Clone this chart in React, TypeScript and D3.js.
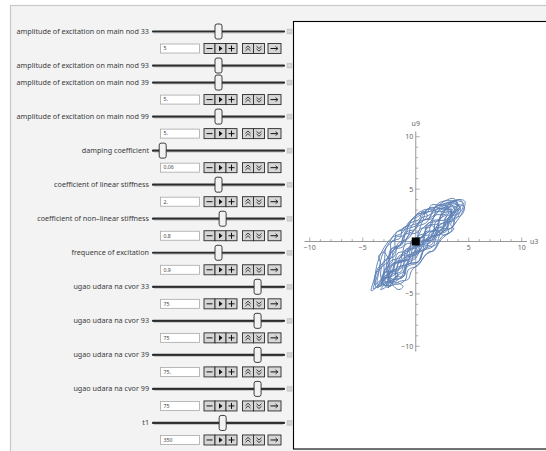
import React from "react";
import * as d3 from "d3";

// ---------- control panel data ----------
const controlLabels = [
  "amplitude of excitation on main nod 33",
  "amplitude of excitation on main nod 93",
  "amplitude of excitation on main nod 39",
  "amplitude of excitation on main nod 99",
  "damping coefficient",
  "coefficient of linear stiffness",
  "coefficient of non\u2013linear stiffness",
  "frequence of excitation",
  "ugao udara na cvor 33",
  "ugao udara na cvor 93",
  "ugao udara na cvor 39",
  "ugao udara na cvor 99",
  "t1",
];
const controlValues = [5, 5, 5, 5, 0.06, 2, 0.8, 0.9, 75, 75, 75, 75, 350];
const controlMins = [0, 0, 0, 0, 0, 0, 0, 0, 0, 0, 0, 0, 0];
const controlMaxs = [10, 10, 10, 10, 1.2, 4, 1.5, 1.8, 92, 92, 92, 92, 656];
const controlTexts = ["5", "", "5.", "5.", "0.06", "2.", "0.8", "0.9", "75", "75", "75.", "75", "350"];
const controlOpen = [true, false, true, true, true, true, true, true, true, true, true, true, true];

// ---------- plot data ----------
const xTicks = [-10, -5, 5, 10];
const yTicks = [-10, -5, 5, 10];
const minorTicks = d3.range(-10, 11).filter((v) => v !== 0);
const xLabel = "u3";
const yLabel = "u9";
const currentPoint: [number, number] = [0, 0];

const trajectory: [number, number][] = [
  [0, 0], [0.6, 1.2], [1.4, 1.9], [2.2, 2.9], [3.0, 3.2], [3.4, 2.6], [2.8, 1.6], [1.9, 0.6],
  [0.8, -0.7], [0.3, -1.9], [-0.8, -2.2], [-1.2, -3.4], [-2.1, -3.7], [-2.6, -4.4],
  [-3.2, -3.8], [-2.6, -2.4], [-2.3, -1.0], [-1.4, -0.2], [-0.9, 1.1], [0.2, 1.6], [0.8, 2.7], [1.9, 3.0],
  [2.6, 3.6], [3.5, 3.7], [4.1, 3.3], [3.7, 2.4], [3.4, 1.3], [2.4, 0.9], [1.9, -0.3], [0.8, -0.7],
  [0.3, -1.9], [-0.8, -2.2], [-1.2, -3.4], [-2.1, -3.7], [-2.6, -4.4],
  [-2.1, -2.6], [-1.6, -1.4], [-0.7, -1.0], [-0.3, 0.2], [0.7, 0.5], [1.1, 1.7], [2.1, 2.0], [2.6, 3.0], [3.3, 3.0],
  [3.0, 2.0], [2.0, 1.5], [1.4, 0.3], [0.3, 0.0], [-0.3, -1.2], [-1.4, -1.4], [-1.9, -2.7], [-3.0, -3.0],
  [-3.4, -4.0], [-4.2, -4.7],
  [-3.9, -3.5], [-3.6, -2.0], [-3.0, -0.6], [-2.2, 0.4], [-1.3, 0.8], [-0.6, 1.9], [0.4, 2.5], [1.3, 3.2],
  [2.4, 3.3], [3.2, 3.8], [4.3, 4.0], [4.65, 3.8],
  [4.3, 2.6], [3.5, 1.4], [3.3, 0.9], [2.5, 0.5], [1.7, -0.8], [0.9, -1.3], [0.2, -2.3], [-0.7, -2.7],
  [-1.0, -3.7], [-1.9, -4.1], [-2.6, -3.6], [-2.3, -2.9], [-1.7, -3.1], [-1.9, -3.6], [-2.5, -3.4],
  [-2.8, -2.5], [-2.1, -1.2], [-1.5, -0.3], [-0.6, 0.4], [0.1, 1.4], [1.0, 1.8], [1.7, 2.8], [2.7, 2.9],
  [3.0, 3.5], [3.9, 3.8],
  [3.8, 2.9], [2.8, 2.3], [2.5, 1.2], [1.4, 0.9], [0.9, -0.2], [-0.2, -0.5], [-0.6, -1.7], [-1.6, -2.0],
  [-2.0, -3.2], [-3.0, -3.5], [-3.3, -4.3],
  [-3.0, -3.2], [-2.9, -1.8], [-2.0, -1.4], [-1.7, -0.2], [-0.8, 0.3], [-0.4, 1.5], [0.6, 1.9], [1.0, 3.0],
  [1.9, 3.3], [2.8, 3.9], [3.6, 4.1],
  [3.9, 3.4], [3.4, 2.4], [3.7, 1.7], [3.1, 1.2], [2.2, 1.3], [1.7, 0.2], [0.6, 0.0], [0.2, -1.1],
  [-0.9, -1.4], [-1.3, -2.5], [-2.4, -2.8], [-2.7, -3.9], [-3.6, -4.2],
  [-3.5, -3.0], [-3.2, -1.4], [-2.5, -0.1], [-1.8, 0.9], [-0.9, 1.2], [-0.2, 2.3], [0.6, 2.9], [1.1, 2.5],
  [0.9, 2.1], [1.6, 2.4], [2.3, 3.1], [3.1, 3.3], [3.4, 3.0],
  [2.9, 2.1], [1.9, 1.9], [1.6, 0.7], [0.6, 0.5], [0.1, -0.6], [-0.9, -0.7], [-1.2, -1.9], [-2.2, -2.2],
  [-2.5, -3.2], [-3.0, -3.7],
  [-2.2, -3.9], [-1.3, -3.3], [-0.9, -2.1], [0.0, -1.6], [0.6, -0.5], [1.5, -0.3], [2.0, 0.8], [2.9, 1.3],
  [3.3, 2.3], [4.2, 2.8], [4.5, 3.6], [4.1, 4.0],
  [3.3, 3.6], [2.6, 3.2], [1.7, 3.0], [1.2, 2.2], [0.3, 1.9], [-0.2, 1.0], [-1.1, 0.6], [-1.5, -0.4],
  [-2.4, -0.8], [-2.6, -1.9], [-3.3, -2.5], [-3.8, -3.8], [-4.0, -4.5],
  [-3.4, -4.1], [-2.6, -3.2], [-2.4, -1.9], [-1.4, -1.5], [-1.0, -0.3], [0.0, 0.0], [0.4, 1.2], [1.4, 1.4],
  [1.8, 2.5], [2.8, 2.6], [3.2, 3.3], [3.7, 3.2],
  [3.2, 2.4], [2.8, 1.6], [3.1, 0.9], [2.6, 0.6], [2.0, 1.0], [1.4, -0.1], [0.4, -0.4], [-0.1, -1.5],
  [-1.0, -1.9], [-1.4, -2.9], [-2.4, -3.2], [-2.8, -4.3], [-3.3, -4.6],
  [-2.8, -4.0], [-1.8, -3.9], [-1.2, -4.3], [-1.6, -4.6], [-2.2, -4.1],
  [-2.6, -3.0], [-2.7, -1.6], [-2.0, -0.7], [-1.9, 0.4], [-1.0, 0.6], [-0.6, 1.7], [0.3, 2.1], [0.7, 3.0],
  [1.6, 3.1], [2.2, 3.7], [3.2, 3.9], [4.0, 3.6],
  [4.2, 2.9], [3.6, 2.0], [2.8, 1.8], [2.4, 0.7], [1.3, 0.4], [1.0, -0.7], [-0.1, -1.0], [-0.5, -2.1],
  [-1.5, -2.4], [-1.9, -3.5], [-2.9, -3.9], [-3.7, -4.4],
  [-3.8, -3.3], [-3.3, -2.2], [-3.5, -1.4], [-3.0, -1.0], [-2.6, -1.5], [-2.2, -0.6], [-1.3, -0.3], [-0.9, 0.9],
  [0.0, 1.2], [0.5, 2.2], [1.4, 2.6], [2.0, 3.4], [2.9, 3.4],
  [3.1, 2.7], [2.3, 2.2], [2.0, 1.1], [1.0, 0.8], [0.6, -0.3], [-0.4, -0.6], [-0.8, -1.7], [-1.8, -1.9],
  [-2.2, -2.9], [-2.9, -3.3], [-3.1, -4.1],
  [-2.3, -4.2], [-1.5, -3.8], [-0.7, -3.6], [-0.4, -2.8], [0.4, -2.0], [1.2, -1.0], [1.7, -0.9], [2.2, -0.1],
  [2.6, 0.4], [3.3, 0.9], [3.6, 1.2], [3.3, 1.6], [3.6, 2.2], [4.3, 2.5], [4.6, 3.3],
  [4.0, 3.5], [3.3, 2.9], [2.5, 2.7], [2.1, 1.7], [1.1, 1.5], [0.7, 0.4], [-0.3, 0.2], [-0.7, -0.9],
  [-1.7, -1.1], [-2.1, -2.2], [-2.9, -2.6], [-3.2, -3.5], [-3.9, -4.1],
  [-3.6, -2.6], [-3.0, -1.9], [-2.8, -0.6], [-2.0, 0.2], [-1.8, 0.9], [-0.9, 1.4], [-0.3, 2.2], [0.5, 2.7],
  [1.4, 2.9], [2.2, 3.5], [3.0, 3.6], [3.8, 3.9], [4.4, 3.7],
  [3.9, 3.0], [3.0, 2.6], [2.6, 1.5], [1.7, 1.2], [1.3, 0.1], [0.3, -0.2], [-0.2, -1.3], [-1.2, -1.6],
  [-1.6, -2.7], [-2.6, -3.0], [-2.9, -3.9], [-2.4, -4.3],
  [-1.9, -3.4], [-1.1, -2.8], [-0.6, -1.6], [0.3, -1.1], [0.8, 0.0], [1.7, 0.5], [2.2, 1.5], [3.0, 2.0],
  [3.4, 2.9], [3.1, 3.1], [2.4, 2.5],
  [1.8, 1.1], [0.9, 0.9], [0.5, -0.4], [-0.6, -0.5], [-1.0, -1.8], [-2.0, -2.1], [-2.3, -3.3], [-3.2, -3.6],
  [-3.6, -4.4],
  [-3.1, -3.9], [-2.9, -2.7], [-2.2, -1.9], [-2.1, -0.8], [-1.2, -0.5], [-0.7, 0.6], [0.2, 0.9], [0.7, 2.0],
  [1.6, 2.2], [2.0, 3.1], [2.9, 3.1], [3.5, 3.6], [4.2, 3.2],
  [3.5, 2.5], [2.9, 1.2], [2.0, 0.5], [1.6, -0.5], [0.7, -0.9], [0.2, -2.0], [-0.8, -2.4], [-1.1, -3.3],
  [-1.9, -3.4], [-2.8, -4.2],
  [-3.3, -3.4], [-3.1, -2.1], [-2.4, -1.3], [-2.3, 0.0], [-1.5, 0.3], [-1.2, 1.3], [-0.3, 1.6], [0.1, 2.6],
  [1.0, 2.7], [1.5, 3.5], [2.5, 3.4], [3.4, 3.5],
  [3.7, 2.7], [3.0, 2.2], [3.0, 1.1], [1.9, 0.6], [0.9, 0.2], [0.6, -0.9], [-0.4, -1.1], [-0.8, -2.2],
  [-1.8, -2.5], [-2.0, -3.6], [-2.7, -3.6],
  [-2.2, -2.1], [-1.5, -1.9], [-1.1, -0.9], [-0.2, -0.7], [0.2, 0.5], [1.2, 0.9], [1.5, 1.9], [2.4, 2.2],
  [2.8, 3.1], [3.6, 3.4], [4.0, 2.8],
  [3.2, 1.9], [2.1, 1.0], [1.4, 1.6], [0.6, 0.5], [0.0, 0.0],
];

// ---------- layout ----------
const W = 546;
const H = 451;
const ROW0 = 31.5;
const PITCH = 17.02;
const TRACK_X0 = 153;
const TRACK_X1 = 284;

function Buttons({ y }: { y: number }) {
  const h = 10;
  const top = y - h / 2;
  const bw = 11;
  const g1 = 204;
  const g2 = 242.5;
  const g3 = 268;
  const cell = (x: number, w: number, key: string) => (
    <rect key={key} x={x} y={top} width={w} height={h} fill="#d6d6d6" stroke="#2a2a2a" strokeWidth={0.9} />
  );
  const cx1 = g1 + bw / 2;
  const cx2 = g1 + bw * 1.5;
  const cx3 = g1 + bw * 2.5;
  const cx4 = g2 + bw / 2;
  const cx5 = g2 + bw * 1.5;
  const cx6 = g3 + 6.5;
  return (
    <g>
      {cell(g1, bw, "a")}
      {cell(g1 + bw, bw, "b")}
      {cell(g1 + 2 * bw, bw, "c")}
      {cell(g2, bw, "d")}
      {cell(g2 + bw, bw, "e")}
      {cell(g3, 13, "f")}
      <g stroke="#111" strokeWidth={1} fill="none">
        <line x1={cx1 - 3} x2={cx1 + 3} y1={y} y2={y} />
        <line x1={cx3 - 3} x2={cx3 + 3} y1={y} y2={y} />
        <line x1={cx3} x2={cx3} y1={y - 3} y2={y + 3} />
        <path d={`M${cx4 - 2.5},${y - 0.3}L${cx4},${y - 2.6}L${cx4 + 2.5},${y - 0.3}M${cx4 - 2.5},${y + 2.3}L${cx4},${y}L${cx4 + 2.5},${y + 2.3}`} strokeWidth={0.8} />
        <path d={`M${cx5 - 2.5},${y - 2.3}L${cx5},${y}L${cx5 + 2.5},${y - 2.3}M${cx5 - 2.5},${y + 0.3}L${cx5},${y + 2.6}L${cx5 + 2.5},${y + 0.3}`} strokeWidth={0.8} />
        <line x1={cx6 - 4} x2={cx6 + 3} y1={y} y2={y} />
        <path d={`M${cx6 + 1},${y - 2}L${cx6 + 3.5},${y}L${cx6 + 1},${y + 2}`} strokeWidth={0.8} />
      </g>
      <path d={`M${cx2 - 1.5},${y - 2.8}L${cx2 + 2},${y}L${cx2 - 1.5},${y + 2.8}Z`} fill="#111" />
    </g>
  );
}

export default function App() {
  const x = d3.scaleLinear().domain([-10.5, 10.5]).range([304.5, 527]);
  const y = d3.scaleLinear().domain([-10.5, 10.5]).range([351.5, 131.5]);
  const line = d3
    .line<[number, number]>()
    .x((d) => x(d[0]))
    .y((d) => y(d[1]))
    .curve(d3.curveCatmullRom.alpha(0.5));

  const rows: { i: number; sy: number; iy: number | null }[] = [];
  let k = 0;
  controlLabels.forEach((_, i) => {
    const sy = ROW0 + k * PITCH;
    k++;
    let iy: number | null = null;
    if (controlOpen[i]) {
      iy = ROW0 + k * PITCH;
      k++;
    }
    rows.push({ i, sy, iy });
  });

  const x0 = x(0);
  const y0 = y(0);
  const font = "'Noto Sans', 'Open Sans', sans-serif";

  return (
    <div style={{ position: "fixed", left: 0, top: 0, width: W, height: H, background: "#fff" }}>
      <svg width={W} height={H} style={{ display: "block" }}>
        <rect x={10.5} y={5.5} width={W} height={H} fill="#f3f3f3" stroke="#c8c8c8" strokeWidth={1.2} />
        {rows.map(({ i, sy, iy }) => {
          const s = d3.scaleLinear().domain([controlMins[i], controlMaxs[i]]).range([156.5, 280.5]);
          const tx = s(controlValues[i]);
          return (
            <g key={i}>
              <text x={149} y={sy + 2.4} textAnchor="end" fontFamily={font} fontSize={7.2} fill="#3a3a3a">
                {controlLabels[i]}
              </text>
              <line x1={TRACK_X0} x2={TRACK_X1} y1={sy} y2={sy} stroke="#2c2c2c" strokeWidth={2.2} strokeLinecap="round" />
              <line x1={TRACK_X0 + 1} x2={TRACK_X1 - 1} y1={sy + 1.4} y2={sy + 1.4} stroke="#9a9a9a" strokeWidth={0.6} />
              <rect x={tx - 3.5} y={sy - 7.5} width={7} height={15} rx={2} fill="#f2f2f2" stroke="#2a2a2a" strokeWidth={0.9} />
              <rect x={287} y={sy - 2.5} width={5} height={5} fill="#cdcdcd" stroke="#bdbdbd" strokeWidth={0.4} />
              <line x1={288.2} x2={290.8} y1={sy} y2={sy} stroke="#eee" strokeWidth={0.7} />
              {!controlOpen[i] && <line x1={289.5} x2={289.5} y1={sy - 1.3} y2={sy + 1.3} stroke="#eee" strokeWidth={0.7} />}
              {iy !== null && (
                <g>
                  <rect x={160.5} y={iy - 4.5} width={39} height={9} fill="#fff" stroke="#a8a8a8" strokeWidth={0.8} />
                  <text x={163.5} y={iy + 1.8} fontFamily={font} fontSize={5.2} fill="#444">
                    {controlTexts[i]}
                  </text>
                  <Buttons y={iy} />
                </g>
              )}
            </g>
          );
        })}
        <rect x={293.5} y={21.5} width={270} height={427.5} fill="#fff" stroke="#000" strokeWidth={1.1} />
        <g stroke="#8c8c8c" strokeWidth={0.9}>
          <line x1={x(-10.5)} x2={x(10.5)} y1={y0} y2={y0} />
          <line x1={x0} x2={x0} y1={y(10.5)} y2={y(-10.5)} />
          {minorTicks.map((v) => (
            <line key={"mx" + v} x1={x(v)} x2={x(v)} y1={y0} y2={y0 - (v % 5 === 0 ? 4 : 2.4)} strokeWidth={0.7} />
          ))}
          {minorTicks.map((v) => (
            <line key={"my" + v} x1={x0} x2={x0 + (v % 5 === 0 ? 4 : 2.4)} y1={y(v)} y2={y(v)} strokeWidth={0.7} />
          ))}
        </g>
        <g fontFamily={font} fontSize={7} fill="#666">
          {xTicks.map((v) => (
            <text key={"xt" + v} x={x(v)} y={y0 + 8.5} textAnchor="middle">
              {v < 0 ? "\u2212" + Math.abs(v) : String(v)}
            </text>
          ))}
          {yTicks.map((v) => (
            <text key={"yt" + v} x={x0 - 2.5} y={y(v) + 2.5} textAnchor="end">
              {v < 0 ? "\u2212" + Math.abs(v) : String(v)}
            </text>
          ))}
          <text x={x(10.5) + 3} y={y0 + 2.5}>{xLabel}</text>
          <text x={x0} y={y(10.5) - 6} textAnchor="middle">{yLabel}</text>
        </g>
        <path d={line(trajectory) || ""} fill="none" stroke="#5e81b5" strokeWidth={0.95} strokeLinejoin="round" />
        <rect x={x(currentPoint[0]) - 4} y={y(currentPoint[1]) - 4} width={8} height={8} fill="#000" />
      </svg>
    </div>
  );
}
